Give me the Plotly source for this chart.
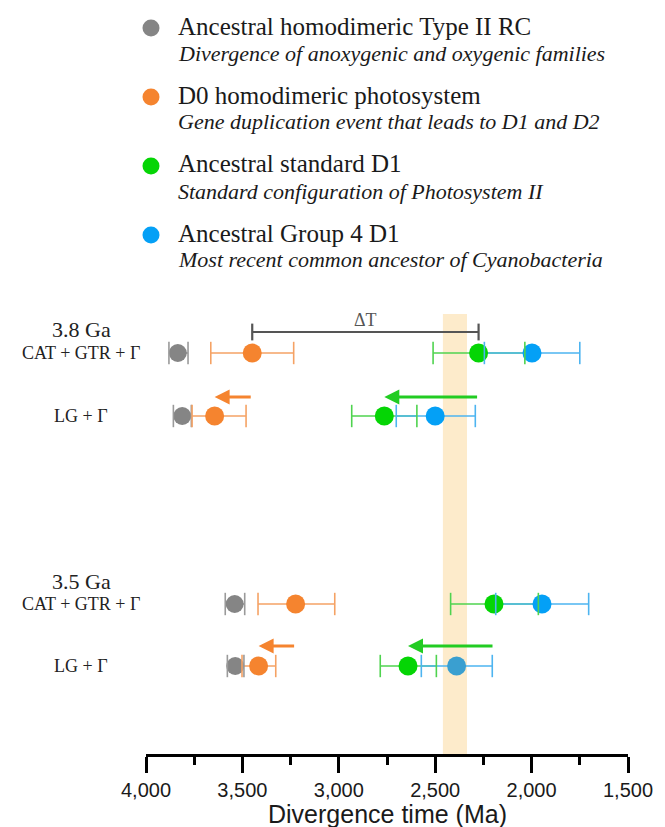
import plotly.graph_objects as go

# ---------------- data ----------------
GROUP_LABELS = ["3.8 Ga", "3.5 Ga"]
MODEL_LABELS = ["CAT + GTR + Γ", "LG + Γ", "CAT + GTR + Γ", "LG + Γ"]

NODE_NAMES = ["Ancestral homodimeric Type II RC", "D0 homodimeric photosystem",
              "Ancestral standard D1", "Ancestral Group 4 D1"]
NODE_NOTES = ["Divergence of anoxygenic and oxygenic families",
              "Gene duplication event that leads to D1 and D2",
              "Standard configuration of Photosystem II",
              "Most recent common ancestor of Cyanobacteria"]

# estimates (Ma), rows: 3.8 CAT, 3.8 LG, 3.5 CAT, 3.5 LG
grey_est = [3835, 3812, 3540, 3537]
grey_old = [3881, 3858, 3589, 3578]
grey_young = [3782, 3765, 3488, 3492]

orange_est = [3449, 3644, 3224, 3416]
orange_old = [3664, 3761, 3419, 3502]
orange_young = [3234, 3481, 3021, 3327]

green_est = [2275, 2764, 2195, 2641]
green_old = [2511, 2933, 2420, 2785]
green_young = [2035, 2595, 1965, 2494]

blue_est = [1998, 2500, 1946, 2389]
blue_old = [2245, 2702, 2186, 2572]
blue_young = [1750, 2292, 1704, 2204]

GOE_BAND = [2460, 2335]

X_TICKS = [4000, 3500, 3000, 2500, 2000, 1500]
X_TICK_TEXT = ["4,000", "3,500", "3,000", "2,500", "2,000", "1,500"]
X_MINOR = [3750, 3250, 2750, 2250, 1750]
X_TITLE = "Divergence time (Ma)"

# ---------------- layout constants ----------------
W, H = 665, 827
PL, PR, PT, PB = 138, 620, 300, 746
ROW_Y = [345, 408, 596, 658]
ARROW_Y = [389, 638]
GROUP_Y = [321, 573]
DT_Y = 324
BAND_TOP = 306
XTITLE_Y = 806

SERIF = "Liberation Serif, Times New Roman, serif"
SANS = "Liberation Sans, Arial, sans-serif"

dot_colors = ["#858585", "#F5842F", "#05D505", "#04A0F6"]
err_colors = ["#9A9A9A", "#F5A264", "#4FD34F", "#4DB4F0"]
series = [
    (grey_est, grey_old, grey_young),
    (orange_est, orange_old, orange_young),
    (green_est, green_old, green_young),
    (blue_est, blue_old, blue_young),
]
dot_sizes = [18, 19, 19, 19]


def px_x(px):
    return (px - PL) / (PR - PL)


def px_y(py):
    return (PB - py) / (PB - PT)


fig = go.Figure()

# error lines (no caps) first
for (est, old, young), ec in zip(series, err_colors):
    fig.add_trace(go.Scatter(
        x=est, y=ROW_Y, mode="markers",
        marker=dict(size=1, color="rgba(0,0,0,0)"),
        error_x=dict(type="data", array=[o - e for o, e in zip(old, est)],
                     arrayminus=[e - y for e, y in zip(est, young)],
                     color=ec, thickness=1.6, width=0),
        showlegend=False, hoverinfo="skip"))

# dots
for i, ((est, old, young), dc) in enumerate(zip(series, dot_colors)):
    cols = [dc] * len(est)
    if i == 3:
        cols[3] = "#3A9FD0"
    fig.add_trace(go.Scatter(
        x=est, y=ROW_Y, mode="markers",
        marker=dict(size=dot_sizes[i], color=cols, line=dict(width=0)),
        showlegend=False, name=NODE_NAMES[i]))

# caps on top
for (est, old, young), ec in zip(series, err_colors):
    fig.add_trace(go.Scatter(
        x=old + young, y=ROW_Y + ROW_Y, mode="markers",
        marker=dict(symbol="line-ns", size=16, line=dict(width=1.6, color=ec)),
        showlegend=False, hoverinfo="skip"))

# Delta T bar
fig.add_trace(go.Scatter(
    x=[orange_est[0], green_est[0]], y=[DT_Y, DT_Y], mode="lines+markers",
    line=dict(color="#555555", width=2.2),
    marker=dict(symbol="line-ns", size=12, line=dict(width=2.2, color="#555555")),
    showlegend=False, hoverinfo="skip"))

annotations = []
annotations.append(dict(x=(orange_est[0] + green_est[0]) / 2, y=DT_Y - 12,
                        xref="x", yref="y", text="ΔT", showarrow=False,
                        font=dict(family=SERIF, size=18, color="#555555")))

# shift arrows (CAT -> LG)
for g in range(2):
    r_cat, r_lg = 2 * g, 2 * g + 1
    for est, col in ((orange_est, "#F5842F"), (green_est, "#22CC22")):
        annotations.append(dict(
            x=est[r_lg], y=ARROW_Y[g], ax=est[r_cat], ay=ARROW_Y[g],
            xref="x", yref="y", axref="x", ayref="y", text="",
            showarrow=True, arrowhead=2, arrowsize=1.0, arrowwidth=3,
            arrowcolor=col))

# row labels
LABEL_X = 73
for g in range(2):
    annotations.append(dict(x=px_x(LABEL_X), y=px_y(GROUP_Y[g]), xref="paper", yref="paper",
                            text=GROUP_LABELS[g], showarrow=False, xanchor="center",
                            yanchor="middle", font=dict(family=SERIF, size=22, color="#222222")))
for r in range(4):
    annotations.append(dict(x=px_x(LABEL_X), y=px_y(ROW_Y[r]), xref="paper", yref="paper",
                            text=MODEL_LABELS[r], showarrow=False, xanchor="center",
                            yanchor="middle", font=dict(family=SERIF, size=18, color="#222222")))

# axis title
annotations.append(dict(x=0.5, y=px_y(XTITLE_Y), xref="paper", yref="paper", text=X_TITLE,
                        showarrow=False, xanchor="center", yanchor="middle",
                        font=dict(family=SANS, size=25, color="#1a1a1a")))

# legend (annotations + circles)
LEG_TITLE_Y = [18, 87, 156, 225]
LEG_NOTE_OFF = 27
LEG_DOT_X = 143
LEG_TEXT_X = 168
shapes = []
for i in range(4):
    annotations.append(dict(x=px_x(LEG_TEXT_X), y=px_y(LEG_TITLE_Y[i]), xref="paper", yref="paper",
                            text=NODE_NAMES[i], showarrow=False, xanchor="left", yanchor="middle",
                            font=dict(family=SERIF, size=25, color="#1a1a1a")))
    annotations.append(dict(x=px_x(LEG_TEXT_X), y=px_y(LEG_TITLE_Y[i] + LEG_NOTE_OFF), xref="paper",
                            yref="paper", text="<i>" + NODE_NOTES[i] + "</i>", showarrow=False,
                            xanchor="left", yanchor="middle",
                            font=dict(family=SERIF, size=22, color="#1a1a1a")))
    shapes.append(dict(type="circle", xref="paper", yref="paper",
                       xsizemode="pixel", ysizemode="pixel",
                       xanchor=px_x(LEG_DOT_X), yanchor=px_y(LEG_TITLE_Y[i] + 2),
                       x0=-8.5, x1=8.5, y0=-8.5, y1=8.5,
                       fillcolor=dot_colors[i], line=dict(width=0)))

# GOE band
shapes.append(dict(type="rect", xref="x", yref="y", x0=GOE_BAND[0], x1=GOE_BAND[1],
                   y0=BAND_TOP, y1=PB, fillcolor="#FDEBCB", line=dict(width=0), layer="below"))

fig.update_layout(
    width=W, height=H,
    margin=dict(l=PL, r=W - PR, t=PT, b=H - PB, pad=0),
    paper_bgcolor="white", plot_bgcolor="white",
    showlegend=False,
    annotations=annotations, shapes=shapes,
    xaxis=dict(range=[4000, 1500], autorange=False,
               tickmode="array", tickvals=X_TICKS, ticktext=X_TICK_TEXT,
               showline=True, linecolor="black", linewidth=3,
               ticks="outside", ticklen=16, tickwidth=3, tickcolor="black",
               minor=dict(tickmode="array", tickvals=X_MINOR, ticks="outside",
                          ticklen=8, tickwidth=3, tickcolor="black"),
               showgrid=False, zeroline=False,
               tickfont=dict(family=SANS, size=20, color="#1a1a1a"),
               ticklabelstandoff=0),
    yaxis=dict(range=[PB, PT], autorange=False, visible=False, showgrid=False, zeroline=False),
)

fig.write_html("out.html")
